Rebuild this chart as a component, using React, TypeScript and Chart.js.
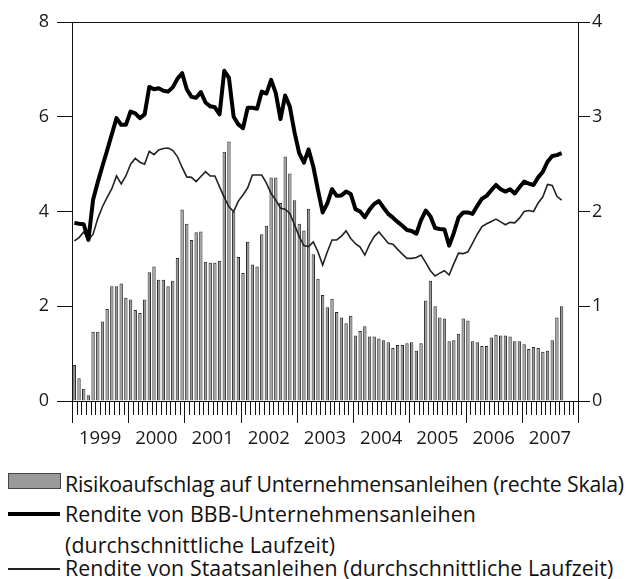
import React, { useEffect, useRef } from 'react';
import { Chart, registerables } from 'chart.js';

Chart.register(...registerables);

const years = [1999, 2000, 2001, 2002, 2003, 2004, 2005, 2006, 2007];
const monthNames = ['01', '02', '03', '04', '05', '06', '07', '08', '09', '10', '11', '12'];
const categories: string[] = years.flatMap((y) => monthNames.map((m) => `${y}-${m}`));

// Rendite von BBB-Unternehmensanleihen (linke Skala, %)
const bbbYield = [
  3.76, 3.74, 3.73, 3.40, 4.25, 4.62, 4.96, 5.29, 5.63, 5.97, 5.83, 5.83,
  6.11, 6.07, 5.97, 6.05, 6.63, 6.58, 6.60, 6.55, 6.53, 6.62, 6.80, 6.92,
  6.58, 6.42, 6.40, 6.52, 6.30, 6.22, 6.20, 6.05, 6.97, 6.82, 6.00, 5.84,
  5.76, 6.19, 6.19, 6.17, 6.53, 6.49, 6.78, 6.50, 5.95, 6.45, 6.21, 5.67,
  5.23, 5.03, 5.31, 4.95, 4.45, 3.98, 4.17, 4.47, 4.33, 4.34, 4.42, 4.37,
  4.05, 4.00, 3.88, 4.04, 4.16, 4.22, 4.08, 3.95, 3.87, 3.78, 3.70, 3.61,
  3.59, 3.53, 3.82, 4.02, 3.90, 3.65, 3.63, 3.62, 3.28, 3.55, 3.87, 3.98,
  3.98, 3.95, 4.12, 4.27, 4.33, 4.45, 4.56, 4.47, 4.42, 4.47, 4.38, 4.51,
  4.63, 4.59, 4.56, 4.72, 4.84, 5.05, 5.17, 5.19, 5.23,
];

// Rendite von Staatsanleihen (linke Skala, %)
const govYield = [
  3.38, 3.45, 3.57, 3.40, 3.52, 3.85, 4.10, 4.30, 4.48, 4.75, 4.58, 4.75,
  5.00, 5.12, 5.04, 5.00, 5.27, 5.20, 5.30, 5.33, 5.34, 5.29, 5.16, 4.93,
  4.73, 4.72, 4.63, 4.74, 4.84, 4.75, 4.75, 4.52, 4.30, 4.10, 4.00, 4.22,
  4.35, 4.50, 4.77, 4.77, 4.77, 4.60, 4.38, 4.24, 4.07, 4.05, 3.96, 3.72,
  3.47, 3.28, 3.26, 3.36, 3.15, 2.87, 3.15, 3.40, 3.40, 3.48, 3.59, 3.43,
  3.32, 3.25, 3.08, 3.30, 3.47, 3.57, 3.45, 3.33, 3.31, 3.20, 3.10, 3.01,
  3.01, 3.03, 3.08, 2.92, 2.75, 2.64, 2.70, 2.75, 2.66, 2.90, 3.12, 3.11,
  3.15, 3.33, 3.52, 3.68, 3.74, 3.79, 3.84, 3.78, 3.72, 3.77, 3.76, 3.86,
  4.00, 4.02, 4.00, 4.18, 4.31, 4.57, 4.55, 4.32, 4.24,
];

// Risikoaufschlag auf Unternehmensanleihen (rechte Skala, Prozentpunkte)
const riskSpread = [
  0.38, 0.24, 0.13, 0.06, 0.73, 0.73, 0.84, 0.97, 1.21, 1.21, 1.24, 1.09,
  1.07, 0.96, 0.93, 1.07, 1.36, 1.42, 1.28, 1.28, 1.21, 1.27, 1.51, 2.02,
  1.87, 1.70, 1.78, 1.79, 1.47, 1.46, 1.46, 1.48, 2.63, 2.74, 2.00, 1.52,
  1.35, 1.68, 1.44, 1.42, 1.76, 1.85, 2.36, 2.36, 2.09, 2.58, 2.40, 2.12,
  1.87, 1.80, 2.03, 1.55, 1.29, 1.12, 0.99, 1.08, 0.94, 0.88, 0.82, 0.90,
  0.69, 0.74, 0.79, 0.68, 0.68, 0.66, 0.64, 0.62, 0.56, 0.59, 0.59, 0.61,
  0.62, 0.53, 0.61, 1.06, 1.27, 1.00, 0.88, 0.87, 0.63, 0.64, 0.71, 0.87,
  0.85, 0.63, 0.62, 0.58, 0.58, 0.67, 0.70, 0.69, 0.69, 0.68, 0.63, 0.63,
  0.60, 0.55, 0.57, 0.56, 0.52, 0.53, 0.64, 0.88, 1.00,
];

const leftTicks = [0, 2, 4, 6, 8];
const rightTicks = [0, 1, 2, 3, 4];

const legendLabels = [
  'Risikoaufschlag auf Unternehmensanleihen (rechte Skala)',
  'Rendite von BBB-Unternehmensanleihen',
  '(durchschnittliche Laufzeit)',
  'Rendite von Staatsanleihen (durchschnittliche Laufzeit)',
];

const FONT = '"Open Sans", "Noto Sans", sans-serif';

const xTicksPlugin = {
  id: 'xTicksPlugin',
  afterDraw(chart: any) {
    const { ctx, chartArea } = chart;
    const xs = chart.scales.x;
    const n = categories.length;
    const w = (xs.right - xs.left) / n;
    ctx.save();
    ctx.strokeStyle = '#111';
    ctx.lineWidth = 1;
    ctx.beginPath();
    for (let i = 0; i <= n; i++) {
      const x = Math.round(xs.left + i * w) + 0.5;
      const len = i % 12 === 0 ? 22 : 14;
      ctx.moveTo(x, chartArea.bottom);
      ctx.lineTo(x, chartArea.bottom + len);
    }
    // top frame line
    ctx.moveTo(chartArea.left, Math.round(chartArea.top) + 0.5);
    ctx.lineTo(chartArea.right, Math.round(chartArea.top) + 0.5);
    ctx.stroke();
    ctx.restore();
  },
};

export default function App() {
  const canvasRef = useRef<HTMLCanvasElement | null>(null);

  useEffect(() => {
    if (!canvasRef.current) return;
    const chart = new Chart(canvasRef.current, {
      type: 'bar',
      data: {
        labels: categories,
        datasets: [
          {
            type: 'line',
            label: legendLabels[1],
            data: bbbYield,
            yAxisID: 'yL',
            borderColor: '#000',
            borderWidth: 4,
            pointRadius: 0,
            tension: 0,
            borderJoinStyle: 'round',
            order: 0,
          } as any,
          {
            type: 'line',
            label: legendLabels[3],
            data: govYield,
            yAxisID: 'yL',
            borderColor: '#222',
            borderWidth: 1.6,
            pointRadius: 0,
            tension: 0,
            order: 1,
          } as any,
          {
            type: 'bar',
            label: legendLabels[0],
            data: riskSpread,
            yAxisID: 'yR',
            backgroundColor: '#9a9a9a',
            borderColor: '#2a2a2a',
            borderWidth: 1,
            barPercentage: 0.72,
            categoryPercentage: 1,
            order: 2,
          } as any,
        ],
      },
      options: {
        responsive: false,
        animation: false,
        events: [],
        layout: { padding: { left: 0, right: 0, top: 22, bottom: 0 } },
        plugins: {
          legend: { display: false },
          tooltip: { enabled: false },
          title: { display: false },
        },
        scales: {
          x: {
            type: 'category',
            offset: true,
            grid: { display: false, drawTicks: false },
            border: { display: true, color: '#111', width: 1 },
            ticks: {
              autoSkip: false,
              maxRotation: 0,
              minRotation: 0,
              padding: 27,
              labelOffset: 2.35,
              color: '#1a1a1a',
              font: { family: FONT, size: 18.5 },
              callback: (_v: any, index: number) =>
                index % 12 === 5 ? String(years[Math.floor(index / 12)]) : '',
            },
            afterFit: (s: any) => {
              s.height = 59;
            },
          },
          yL: {
            position: 'left',
            min: 0,
            max: 8,
            afterBuildTicks: (s: any) => {
              s.ticks = leftTicks.map((v) => ({ value: v }));
            },
            grid: { drawOnChartArea: false, tickLength: 15, color: '#111' },
            border: { display: true, color: '#111', width: 1 },
            ticks: {
              padding: 8,
              color: '#1a1a1a',
              font: { family: FONT, size: 18 },
            },
            afterFit: (s: any) => {
              s.width = 72;
            },
          },
          yR: {
            position: 'right',
            min: 0,
            max: 4,
            afterBuildTicks: (s: any) => {
              s.ticks = rightTicks.map((v) => ({ value: v }));
            },
            grid: { drawOnChartArea: false, tickLength: 12, color: '#111' },
            border: { display: true, color: '#111', width: 1 },
            ticks: {
              padding: 2,
              color: '#1a1a1a',
              font: { family: FONT, size: 18 },
            },
            afterFit: (s: any) => {
              s.width = 49;
            },
          },
        },
      },
      plugins: [xTicksPlugin],
    } as any);
    return () => chart.destroy();
  }, []);

  const textStyle: React.CSSProperties = {
    position: 'absolute',
    left: 65,
    fontFamily: FONT,
    fontSize: 21.3,
    lineHeight: '21.3px',
    color: '#111',
    whiteSpace: 'nowrap',
    letterSpacing: '0.1px',
  };

  return (
    <div style={{ position: 'absolute', left: 0, top: 0, width: 627, height: 579, background: '#fff', overflow: 'hidden' }}>
      <canvas ref={canvasRef} width={627} height={460} style={{ position: 'absolute', left: 0, top: 0, width: 627, height: 460 }} />
      <div style={{ position: 'absolute', left: 8, top: 473, width: 51, height: 14, background: '#9a9a9a', border: '1px solid #444' }} />
      <div style={{ position: 'absolute', left: 8, top: 512, width: 52, height: 4, background: '#000' }} />
      <div style={{ position: 'absolute', left: 8, top: 568, width: 52, height: 1.5, background: '#222' }} />
      <div style={{ ...textStyle, top: 472.5, letterSpacing: '-0.2px' }}>{legendLabels[0]}</div>
      <div style={{ ...textStyle, top: 502.5 }}>{legendLabels[1]}</div>
      <div style={{ ...textStyle, top: 534 }}>{legendLabels[2]}</div>
      <div style={{ ...textStyle, top: 556.5 }}>{legendLabels[3]}</div>
    </div>
  );
}
